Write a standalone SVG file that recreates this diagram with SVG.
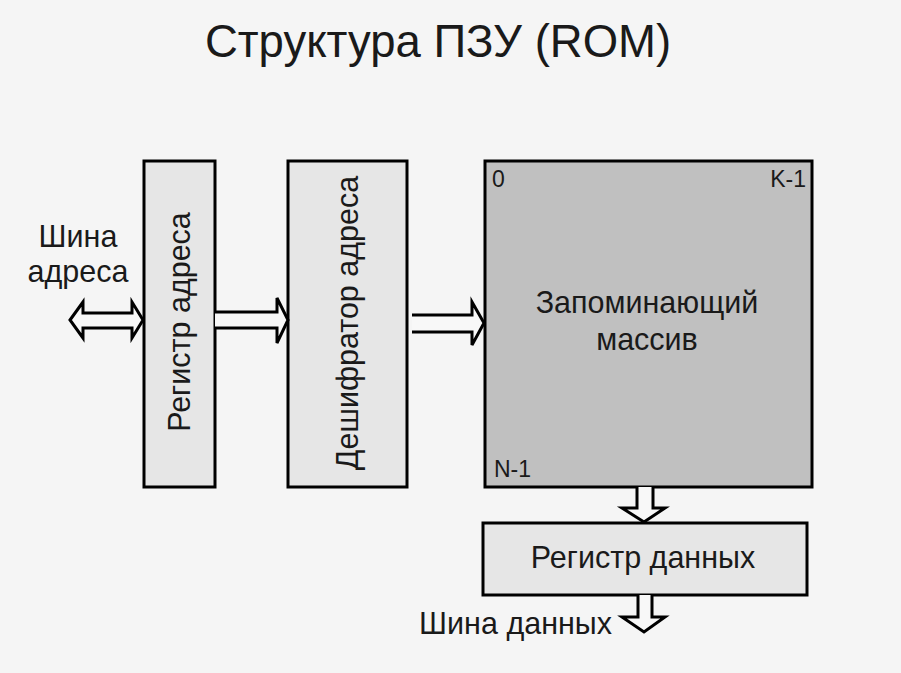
<svg xmlns="http://www.w3.org/2000/svg" width="901" height="673" viewBox="0 0 901 673">
<style>
text{font-family:"Liberation Sans",Arial,sans-serif;fill:#1a1a1a}
.box{stroke:#000;stroke-width:3}
.arr{fill:#f8f8f8;stroke:#000;stroke-width:3;stroke-linejoin:miter}
.t26{font-size:30.5px}
.t20{font-size:23px}
</style>
<rect width="901" height="673" fill="#f5f5f5"/>
<text x="438" y="57" font-size="45.5" text-anchor="middle">Структура ПЗУ (ROM)</text>
<g id="addr-bus-label">
<text class="t26" x="78" y="247" text-anchor="middle">Шина</text>
<text class="t26" x="78" y="282" text-anchor="middle">адреса</text>
</g>
<g id="addr-reg">
<rect class="box" x="144" y="161" width="71" height="326" fill="#e6e6e6"/>
<text class="t26" transform="translate(190,322) rotate(-90)" text-anchor="middle">Регистр адреса</text>
</g>
<g id="decoder">
<rect class="box" x="288" y="161" width="119" height="326" fill="#e6e6e6"/>
<text class="t26" transform="translate(358,323) rotate(-90)" text-anchor="middle">Дешифратор адреса</text>
</g>
<g id="array">
<rect class="box" x="485" y="161" width="327" height="326" fill="#c0c0c0"/>
<text class="t20" x="492" y="187">0</text>
<text class="t20" x="806" y="187" text-anchor="end">K-1</text>
<text class="t20" x="494" y="477">N-1</text>
<text class="t26" x="647" y="313" text-anchor="middle">Запоминающий</text>
<text class="t26" x="647" y="350" text-anchor="middle">массив</text>
</g>
<g id="data-reg">
<rect class="box" x="483" y="523" width="324" height="72" fill="#e6e6e6"/>
<text class="t26" x="643" y="568" text-anchor="middle">Регистр данных</text>
</g>
<g id="data-bus-label">
<text class="t26" x="612" y="634" text-anchor="end">Шина данных</text>
</g>
<g id="connectors">
<path class="arr" d="M70,320 L83,302 L83,313 L132,313 L132,302 L143,320 L132,338 L132,328 L83,328 L83,338 Z"/>
<path class="arr" d="M215,312 L277,312 L277,298 L288,320 L277,343 L277,328 L215,328"/>
<path class="arr" d="M412,315 L472,315 L472,302 L484,323 L472,345 L472,332 L412,332"/>
<path class="arr" d="M637,487 L637,508 L622,508 L644,522 L665,508 L653,508 L653,487"/>
<path class="arr" d="M638,595 L638,617 L622,617 L644,632 L665,617 L652,617 L652,595"/>
</g>
</svg>
